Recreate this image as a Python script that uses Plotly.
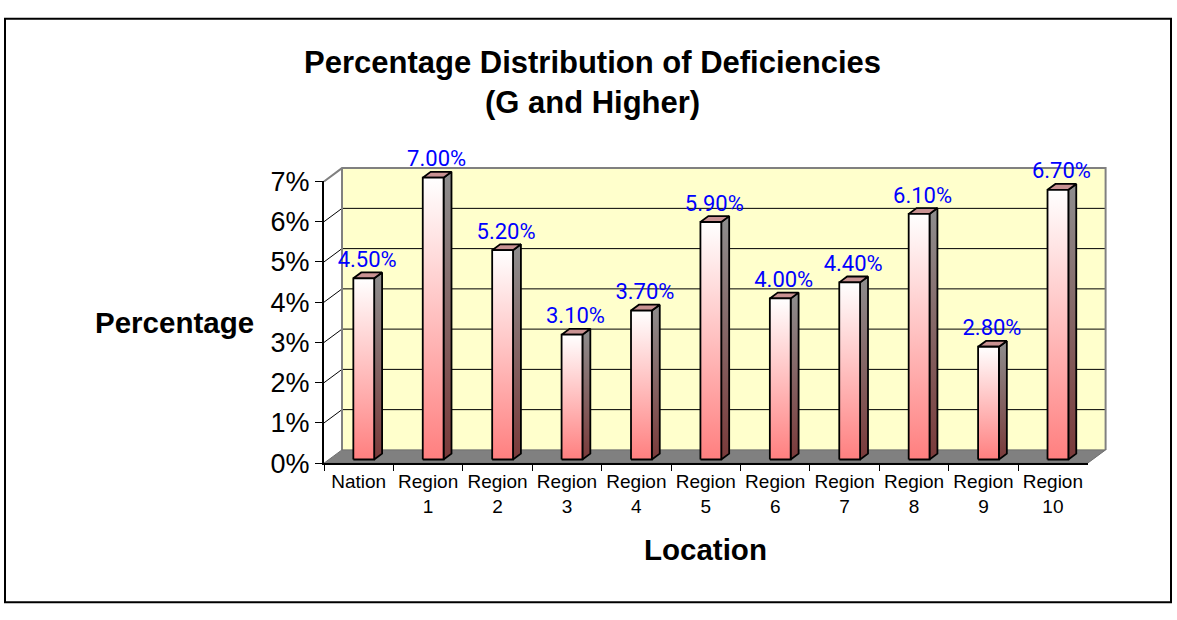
import plotly.graph_objects as go

# ---------------- data ----------------
categories = ["Nation", "Region 1", "Region 2", "Region 3", "Region 4", "Region 5",
              "Region 6", "Region 7", "Region 8", "Region 9", "Region 10"]
values = [4.5, 7.0, 5.2, 3.1, 3.7, 5.9, 4.0, 4.4, 6.1, 2.8, 6.7]
value_labels = ["4.50%", "7.00%", "5.20%", "3.10%", "3.70%", "5.90%",
                "4.00%", "4.40%", "6.10%", "2.80%", "6.70%"]
tick_values = [0, 1, 2, 3, 4, 5, 6, 7]
tick_labels = ["0%", "1%", "2%", "3%", "4%", "5%", "6%", "7%"]
title_text = "Percentage Distribution of Deficiencies<br>(G and Higher)"
x_title = "Location"
y_title = "Percentage"

# ---------------- geometry (pixels) ----------------
W, H = 1177, 620
FX0, FX1 = 324.0, 1087.6      # front plane, left/right
FY0 = 471.0                   # front plane, 0%
PPY = 42.3                    # pixels per 1%
DEPTH_X, DEPTH_Y = 18.0, 14.0 # oblique depth of the box
YMAX = 7
N = len(categories)
PPX = (FX1 - FX0) / N
DXU = DEPTH_X / PPX
DYU = DEPTH_Y / PPY
PAD = 0.08
BAR_W = 0.30                   # bar front width in category units
D_FRONT, D_BACK = 0.28, 0.72   # bar depth (fraction of box depth)

def px(x):
    return x / W

def py(y):
    return 1 - y / H

AXIS_FONT = "Liberation Sans, Arial, sans-serif"
LABEL_FONT = "Roboto, Liberation Sans, sans-serif"

fig = go.Figure()

def poly(xs, ys, **kw):
    fig.add_trace(go.Scatter(x=xs, y=ys, mode="lines", hoverinfo="skip",
                             showlegend=False, xaxis="x", yaxis="y", **kw))

# back wall
xl_w, xr_w = -0.5 + DXU, N - 0.5 + DXU
poly([xl_w, xr_w, xr_w, xl_w, xl_w], [DYU, DYU, YMAX + DYU, YMAX + DYU, DYU],
     fill="toself", fillcolor="#FFFFCC", line=dict(width=0))

# gridlines (side diagonals + wall lines)
gx, gy = [], []
for k in tick_values[1:-1]:
    gx += [-0.5, -0.5 + DXU, xr_w, None]
    gy += [k, k + DYU, k + DYU, None]
poly(gx, gy, line=dict(color="#000000", width=1))

# wall border
poly([-0.5, -0.5 + DXU, xr_w, xr_w], [YMAX, YMAX + DYU, YMAX + DYU, DYU],
     line=dict(color="#808080", width=2))
poly([xl_w, xl_w], [DYU, YMAX + DYU], line=dict(color="#808080", width=2))

# floor
poly([-0.5, N - 0.5, xr_w, xl_w, -0.5], [0, 0, DYU, DYU, 0],
     fill="toself", fillcolor="#808080", line=dict(color="#6E6E6E", width=1))

# bars
ddx = (D_BACK - D_FRONT) * DXU
ddy = (D_BACK - D_FRONT) * DYU
for i, v in enumerate(values):
    xl = i - BAR_W / 2 + D_FRONT * DXU
    xr = i + BAR_W / 2 + D_FRONT * DXU
    yb = D_FRONT * DYU
    yt = v + D_FRONT * DYU
    # side face
    poly([xr, xr + ddx, xr + ddx, xr, xr], [yb, yb + ddy, yt + ddy, yt, yb],
         fill="toself",
         fillgradient=dict(type="vertical", colorscale=[[0, "#7A3A3A"], [1, "#8E8E8E"]]),
         line=dict(color="#000000", width=1.8))
    # top face
    poly([xl, xr, xr + ddx, xl + ddx, xl], [yt, yt, yt + ddy, yt + ddy, yt],
         fill="toself", fillcolor="#C99292", line=dict(color="#000000", width=1.8))
    # front face
    poly([xl, xr, xr, xl, xl], [yb, yb, yt, yt, yb],
         fill="toself",
         fillgradient=dict(type="vertical", colorscale=[[0, "#FF7F7F"], [1, "#FFFFFF"]]),
         line=dict(color="#000000", width=1.8))

# value labels
fig.add_trace(go.Scatter(
    x=[i + D_FRONT * DXU + 0.05 for i in range(N)],
    y=[v + D_BACK * DYU for v in values],
    text=value_labels, mode="text", textposition="top center",
    textfont=dict(family=LABEL_FONT, size=22, color="#0000FF"),
    cliponaxis=False, hoverinfo="skip", showlegend=False, xaxis="x", yaxis="y"))

# front axes (ticks and labels)
cat_labels = [c.replace(" ", "<br>") for c in categories]
fig.add_trace(go.Scatter(x=cat_labels, y=values, mode="markers",
                         marker=dict(opacity=0), hoverinfo="skip",
                         showlegend=False, xaxis="x2", yaxis="y2"))

fig.update_layout(
    width=W, height=H,
    margin=dict(l=0, r=0, t=0, b=0),
    paper_bgcolor="#FFFFFF", plot_bgcolor="rgba(0,0,0,0)",
    showlegend=False,
    xaxis=dict(domain=[px(FX0 - PAD * PPX), px(FX1 + DEPTH_X + PAD * PPX)],
               range=[-0.5 - PAD, N - 0.5 + DXU + PAD], visible=False,
               fixedrange=True, anchor="y"),
    yaxis=dict(domain=[py(FY0 + PAD * PPY), py(FY0 - (YMAX + PAD) * PPY - DEPTH_Y)],
               range=[-PAD, YMAX + DYU + PAD], visible=False,
               fixedrange=True, anchor="x"),
    xaxis2=dict(domain=[px(FX0), px(FX1)], anchor="y2", type="category",
                categoryorder="array", categoryarray=cat_labels,
                range=[-0.5, N - 0.5], tickson="boundaries", ticks="outside",
                ticklen=6, tickwidth=1, tickcolor="#000000",
                showline=True, linecolor="#000000", linewidth=2,
                showgrid=False, zeroline=False, fixedrange=True,
                tickfont=dict(family=AXIS_FONT, size=19, color="#000000")),
    yaxis2=dict(domain=[py(FY0), py(FY0 - YMAX * PPY)], anchor="x2",
                range=[0, YMAX], tickvals=tick_values, ticktext=tick_labels,
                ticks="outside", ticklen=7, tickwidth=1, tickcolor="#000000",
                showline=True, linecolor="#000000", linewidth=2,
                showgrid=False, zeroline=False, fixedrange=True,
                tickfont=dict(family=AXIS_FONT, size=27, color="#000000")),
    annotations=[
        dict(text="<b>" + title_text + "</b>", xref="paper", yref="paper",
             x=px(592), y=py(71), xanchor="center", yanchor="middle",
             showarrow=False, font=dict(family=AXIS_FONT, size=31, color="#000000")),
        dict(text="<b>" + y_title + "</b>", xref="paper", yref="paper",
             x=px(175), y=py(323), xanchor="center", yanchor="middle",
             showarrow=False, font=dict(family=AXIS_FONT, size=29.5, color="#000000")),
        dict(text="<b>" + x_title + "</b>", xref="paper", yref="paper",
             x=px(705), y=py(562), xanchor="center", yanchor="middle",
             showarrow=False, font=dict(family=AXIS_FONT, size=29.5, color="#000000")),
    ],
    shapes=[dict(type="rect", xref="paper", yref="paper",
                 x0=px(5), x1=px(1171), y0=py(617), y1=py(4),
                 line=dict(color="#000000", width=2), layer="above")],
)

fig.write_html(
    "out.html",
    config={"displayModeBar": False, "responsive": False},
    post_script=(
        "document.documentElement.style.margin='0';"
        "document.documentElement.style.overflow='hidden';"
        "document.body.style.margin='0';document.body.style.overflow='hidden';"
        "var d=document.getElementById('{plot_id}');"
        "d.style.position='fixed';d.style.top='0px';d.style.left='0px';"
    ),
)
